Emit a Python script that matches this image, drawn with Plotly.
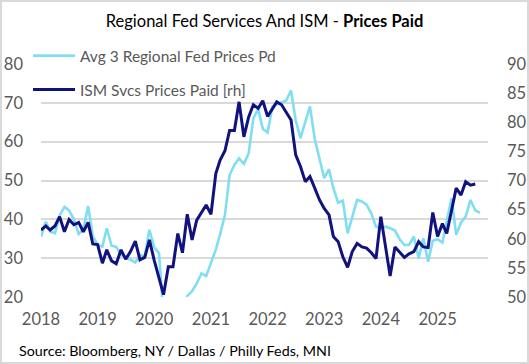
import pandas as pd
import plotly.graph_objects as go

# ---- data (monthly, from Jan 2018) ----
regional_fed_prices = [
    35.5, 39.4, 36.8, 36.4, 41.0, 43.2, 42.3, 40.0, 36.2, 37.5, 43.4, 35.7,   # 2018
    33.4, 33.0, 37.7, 33.2, 32.9, 30.8, 30.3, 29.6, 28.9, 30.8, 30.5, 37.3,   # 2019
    32.8, 31.3, 15.0, 8.0, 10.0, 12.0, 16.5, 20.3, 21.5, 23.5, 26.1, 25.4,    # 2020
    28.8, 32.2, 36.2, 41.1, 51.4, 54.0, 55.7, 54.3, 57.0, 66.0, 68.4, 63.3,   # 2021
    62.3, 69.0, 69.6, 70.1, 70.6, 73.2, 65.5, 60.9, 65.1, 69.1, 60.7, 55.5,   # 2022
    50.6, 52.9, 48.0, 44.3, 44.8, 36.4, 40.9, 45.0, 44.6, 43.8, 41.5, 38.1,   # 2023
    37.8, 38.1, 37.7, 37.1, 34.9, 33.4, 33.4, 35.6, 30.0, 35.1, 29.1, 34.5,   # 2024
    34.9, 34.0, 39.6, 45.4, 36.0, 39.2, 40.7, 45.0, 42.3, 41.7,               # 2025
]
ism_svcs_prices = [
    61.5, 62.2, 61.5, 62.2, 63.8, 61.2, 63.3, 62.4, 62.8, 61.2, 62.8, 59.1,   # 2018
    59.0, 55.8, 58.1, 56.2, 55.7, 58.1, 56.5, 57.8, 59.6, 56.4, 56.8, 59.8,   # 2019
    56.3, 53.2, 50.4, 55.2, 55.2, 60.9, 57.6, 64.2, 59.8, 63.2, 64.5, 65.8,   # 2020
    64.2, 71.2, 73.5, 75.1, 78.6, 78.6, 83.5, 77.5, 80.9, 83.0, 82.4, 83.7,   # 2021
    81.0, 82.2, 83.5, 83.0, 81.8, 80.4, 74.4, 72.4, 69.8, 70.7, 68.7, 66.7,   # 2022
    65.2, 64.1, 60.4, 59.5, 56.9, 55.1, 57.8, 59.2, 58.6, 58.4, 57.6, 56.6,   # 2023
    63.8, 58.6, 53.6, 58.6, 57.8, 56.8, 57.4, 57.8, 59.5, 58.6, 58.5, 64.5,   # 2024
    60.4, 62.6, 60.9, 64.9, 68.7, 67.5, 69.8, 69.2, 69.4,                     # 2025
]
dates_regional = pd.date_range("2018-01-01", periods=len(regional_fed_prices), freq="MS")
dates_ism = pd.date_range("2018-01-01", periods=len(ism_svcs_prices), freq="MS")

year_ticks = [f"{y}-01-01" for y in range(2018, 2026)]
year_labels = [str(y) for y in range(2018, 2026)]
left_ticks = [20, 30, 40, 50, 60, 70, 80]
right_ticks = [50, 55, 60, 65, 70, 75, 80, 85, 90]

FONT = "Lato"
GREY = "#595959"
LIGHT = "#80DEF1"
DARK = "#12127E"

fig = go.Figure()
fig.add_trace(go.Scatter(
    x=dates_regional, y=regional_fed_prices, mode="lines",
    name="Avg 3 Regional Fed Prices Pd",
    line=dict(color=LIGHT, width=2.6), legend="legend2", yaxis="y",
))
fig.add_trace(go.Scatter(
    x=dates_ism, y=ism_svcs_prices, mode="lines",
    name="ISM Svcs Prices Paid [rh]",
    line=dict(color=DARK, width=3), legend="legend3", yaxis="y2",
))

W, H = 529, 364
L, R, T, B = 41, 41, 64, 67
pw, ph = W - L - R, H - T - B

def px_x(p):
    return (p - L) / pw

def px_y(p):
    return (H - B - p) / ph

legend_common = dict(
    bgcolor="rgba(0,0,0,0)", borderwidth=0,
    font=dict(family=FONT, size=15.5, color=GREY),
    xanchor="left", yanchor="middle", itemwidth=42,
)

fig.update_layout(
    width=W, height=H, autosize=False,
    margin=dict(l=L, r=R, t=T, b=B, pad=0, autoexpand=False),
    paper_bgcolor="white", plot_bgcolor="white",
    font=dict(family=FONT, color=GREY),
    showlegend=True,
    title=dict(
        text="Regional Fed Services And ISM - <b>Prices Paid</b>",
        x=0.5, xanchor="center", y=1 - 21 / H, yanchor="middle",
        font=dict(family=FONT, size=16.5, color="#000000"),
    ),
    xaxis=dict(
        type="date", range=["2018-01-01", "2025-11-22"],
        tickvals=year_ticks, ticktext=year_labels,
        showgrid=False, zeroline=False, showline=False, ticks="",
        tickfont=dict(family=FONT, size=16.5, color=GREY),
        ticklabelstandoff=10, automargin=False,
    ),
    yaxis=dict(
        range=[20, 80], tickvals=left_ticks,
        showgrid=True, gridcolor="#D9D9D9", gridwidth=2,
        zeroline=False, showline=False, ticks="",
        tickfont=dict(family=FONT, size=16.5, color=GREY),
        ticklabelstandoff=17, automargin=False,
    ),
    yaxis2=dict(
        range=[50, 90], tickvals=right_ticks, overlaying="y", side="right",
        showgrid=False, zeroline=False, showline=False, ticks="",
        tickfont=dict(family=FONT, size=16.5, color=GREY),
        ticklabelstandoff=18, automargin=False,
    ),
    legend2=dict(x=px_x(28), y=px_y(56), **legend_common),
    legend3=dict(x=px_x(28), y=px_y(90), **legend_common),
    annotations=[dict(
        text="Source: Bloomberg, NY / Dallas / Philly Feds, MNI",
        xref="paper", yref="paper", x=px_x(17), y=px_y(350),
        xanchor="left", yanchor="middle", showarrow=False,
        font=dict(family=FONT, size=14.3, color="#000000"),
    )],
    shapes=[dict(
        type="rect", xref="paper", yref="paper",
        x0=px_x(1), x1=px_x(W - 1), y0=px_y(H - 1), y1=px_y(1),
        line=dict(color="#D9D9D9", width=2), fillcolor="rgba(0,0,0,0)",
        layer="below",
    )],
)

fig.write_html(
    "out.html",
    config={"displayModeBar": False},
    post_script="document.body.style.margin='0';",
)
